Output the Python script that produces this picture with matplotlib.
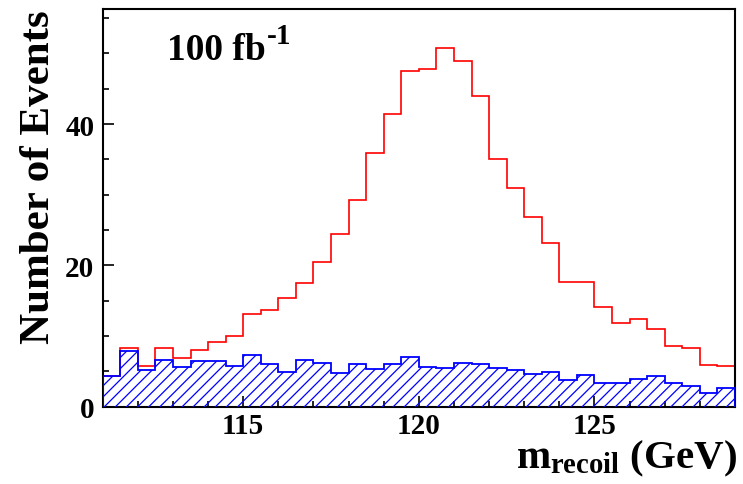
import numpy as np
import matplotlib
matplotlib.use("Agg")
import matplotlib.pyplot as plt
from matplotlib.ticker import MultipleLocator

# bin edges 111 -> 129 GeV, 0.5 GeV per bin
bin_lo = 111.0
bin_hi = 129.0
bin_width = 0.5

# signal + background (red line)
total = [4.35, 8.3, 5.7, 8.3, 6.9, 8.0, 9.2, 10.0, 13.1, 13.6, 15.4, 17.5,
         20.4, 24.5, 29.3, 35.9, 41.4, 47.5, 47.8, 50.8, 48.9, 44.0, 35.0, 30.9,
         26.8, 23.2, 17.7, 17.7, 14.1, 11.8, 12.4, 11.0, 8.6, 8.3, 5.9, 5.7]

# background only (blue hatched)
bkg = [4.35, 7.8, 5.15, 6.6, 5.6, 6.5, 6.5, 5.7, 7.3, 6.0, 4.9, 6.6,
       6.2, 4.7, 6.05, 5.3, 6.0, 6.95, 5.6, 5.5, 6.1, 5.95, 5.4, 5.15,
       4.6, 4.95, 3.8, 4.45, 3.3, 3.3, 3.85, 4.35, 3.35, 2.9, 1.95, 2.65]

edges = np.arange(bin_lo, bin_hi + bin_width / 2, bin_width)

plt.rcParams['font.family'] = ['Liberation Serif', 'DejaVu Serif']
plt.rcParams['font.weight'] = 'bold'
plt.rcParams['mathtext.fontset'] = 'custom'
plt.rcParams['mathtext.rm'] = 'Liberation Serif:bold'
plt.rcParams['mathtext.it'] = 'Liberation Serif:bold'
plt.rcParams['mathtext.bf'] = 'Liberation Serif:bold'
plt.rcParams['hatch.color'] = 'blue'
plt.rcParams['hatch.linewidth'] = 0.9

W, H = 743, 485
fig = plt.figure(figsize=(W / 100, H / 100), dpi=100)
ax = fig.add_axes([102.7 / W, 1 - 407.5 / H, (735 - 102.7) / W, (407.5 - 10) / H])

# red histogram
ax.stairs(total, edges, color='red', linewidth=1.2, zorder=2)
# blue background, hatched
ax.stairs(bkg, edges, fill=True, facecolor='none', edgecolor='blue',
          hatch='///', linewidth=0, zorder=3)
ax.stairs(bkg, edges, color='blue', linewidth=1.3, zorder=4)

ax.set_xlim(bin_lo, bin_hi)
ax.set_ylim(0, 56.3)

ax.xaxis.set_major_locator(MultipleLocator(5))
ax.xaxis.set_minor_locator(MultipleLocator(1))
ax.yaxis.set_major_locator(MultipleLocator(20))
ax.yaxis.set_minor_locator(MultipleLocator(5))
ax.tick_params(which='both', direction='in', top=False, right=False, width=1.2)
ax.tick_params(which='major', length=8, labelsize=21, pad=6)
ax.tick_params(axis='x', which='major', pad=4)
ax.tick_params(which='minor', length=4.5)
for lab in ax.get_xticklabels() + ax.get_yticklabels():
    lab.set_fontweight('bold')
for sp in ax.spines.values():
    sp.set_linewidth(1.5)

# axis titles, ROOT style: aligned at the axis ends
fig.text(39 / W, 1 - 10 / H, 'Number of Events', rotation=90,
         ha='center', va='top', fontsize=31, fontweight='bold')
fig.text(737 / W, 1 - 468 / H, r'$m_{recoil}$ (GeV)', ha='right',
         va='baseline', fontsize=29.5, fontweight='bold')

# luminosity label, big superscript like ROOT's #font[22]
lumi = fig.text(167 / W, 1 - 60 / H, '100 fb', ha='left', va='baseline',
                fontsize=27, fontweight='bold')
fig.canvas.draw()
x_end = lumi.get_window_extent().x1
fig.text(x_end / W + 1 / W, 1 - 44 / H, '-1', ha='left', va='baseline',
         fontsize=21, fontweight='bold')

fig.savefig('out.png', dpi=100)
